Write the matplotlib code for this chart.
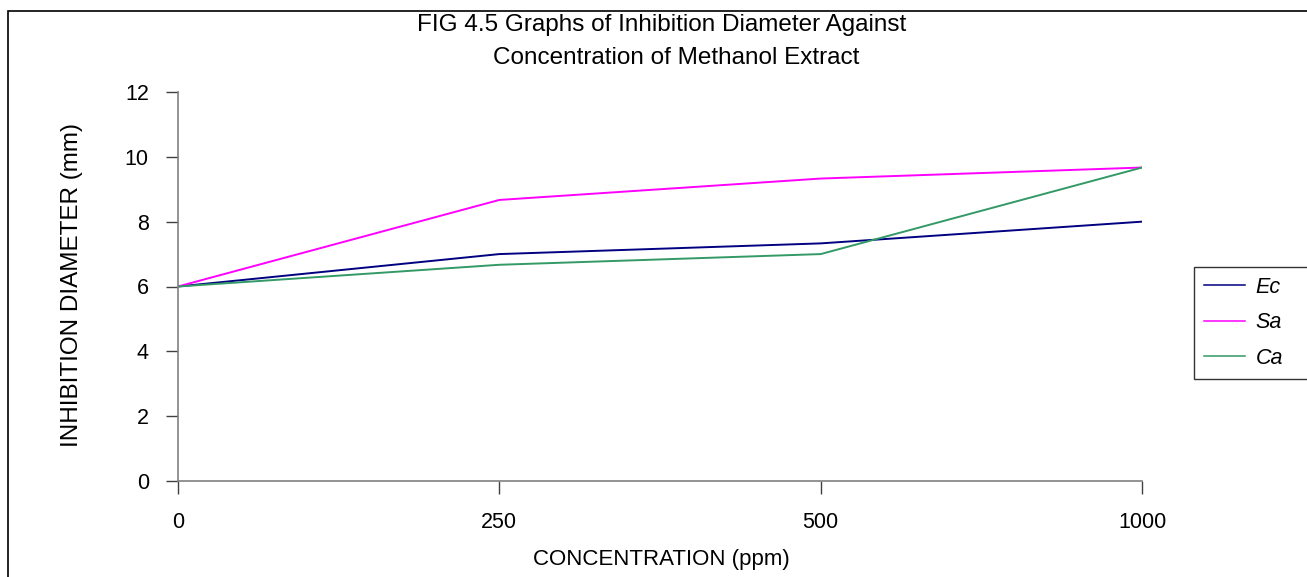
import matplotlib
matplotlib.use("Agg")
import matplotlib.pyplot as plt
from matplotlib.patches import Rectangle

categories = ["0", "250", "500", "1000"]
ec = [6.0, 7.0, 7.33, 8.0]
sa = [6.0, 8.67, 9.33, 9.67]
ca = [6.0, 6.67, 7.0, 9.67]
series_names = ["Ec", "Sa", "Ca"]
yticks = [0, 2, 4, 6, 8, 10, 12]

plt.rcParams['font.family'] = ['Liberation Sans', 'DejaVu Sans']

W, H = 1307, 577
fig = plt.figure(figsize=(W / 100, H / 100), dpi=100)
ax = fig.add_axes([178 / W, 1 - 481 / H, (1142 - 178) / W, (481 - 92) / H])

x = list(range(len(categories)))
ax.plot(x, ec, color="#000080", lw=1.4, label=series_names[0])
ax.plot(x, sa, color="#FF00FF", lw=1.4, label=series_names[1])
ax.plot(x, ca, color="#339966", lw=1.4, label=series_names[2])

ax.set_xlim(0, len(categories) - 1)
ax.set_ylim(0, 12)
ax.set_xticks(x)
ax.set_xticklabels(categories)
ax.set_yticks(yticks)
ax.set_yticklabels([str(v) for v in yticks])
for s in ["top", "right"]:
    ax.spines[s].set_visible(False)
for s in ["left", "bottom"]:
    ax.spines[s].set_color("#808080")
    ax.spines[s].set_linewidth(1.2)
ax.tick_params(axis="both", direction="out", length=9, color="#404040", width=1,
               labelsize=15.5, labelcolor="black")
ax.tick_params(axis="x", pad=13)
ax.tick_params(axis="y", pad=12)

fig.text(72 / W, 1 - 285 / H, "INHIBITION DIAMETER (mm)", fontsize=17.5,
         rotation=90, ha="center", va="center")
fig.text(661 / W, 1 - 560 / H, "CONCENTRATION (ppm)", fontsize=16,
         ha="center", va="center")
fig.text(662 / W, 1 - 25 / H, "FIG 4.5 Graphs of Inhibition Diameter Against",
         fontsize=17.5, ha="center", va="center")
fig.text(676 / W, 1 - 58 / H, "Concentration of Methanol Extract",
         fontsize=17.5, ha="center", va="center")

leg_top = 1 - 267 / H
leg_h = (372 - 267) / H
leg = fig.legend(loc="upper left",
                 bbox_to_anchor=(1194 / W, leg_top - leg_h, 140 / W, leg_h),
                 mode="expand",
                 frameon=True, fancybox=False, edgecolor="black",
                 prop={"style": "italic", "size": 15.5}, handlelength=1.9,
                 borderpad=0.45, labelspacing=0.68, handletextpad=0.5,
                 borderaxespad=0)
leg.get_frame().set_linewidth(1.0)
for line in leg.get_lines():
    line.set_linewidth(1.1)

fig.patches.append(Rectangle((8 / W, -0.05), 1.1, 1 - 11 / H + 0.05,
                             transform=fig.transFigure, fill=False,
                             edgecolor="black", lw=1.2))

fig.savefig("out.png", dpi=100)
